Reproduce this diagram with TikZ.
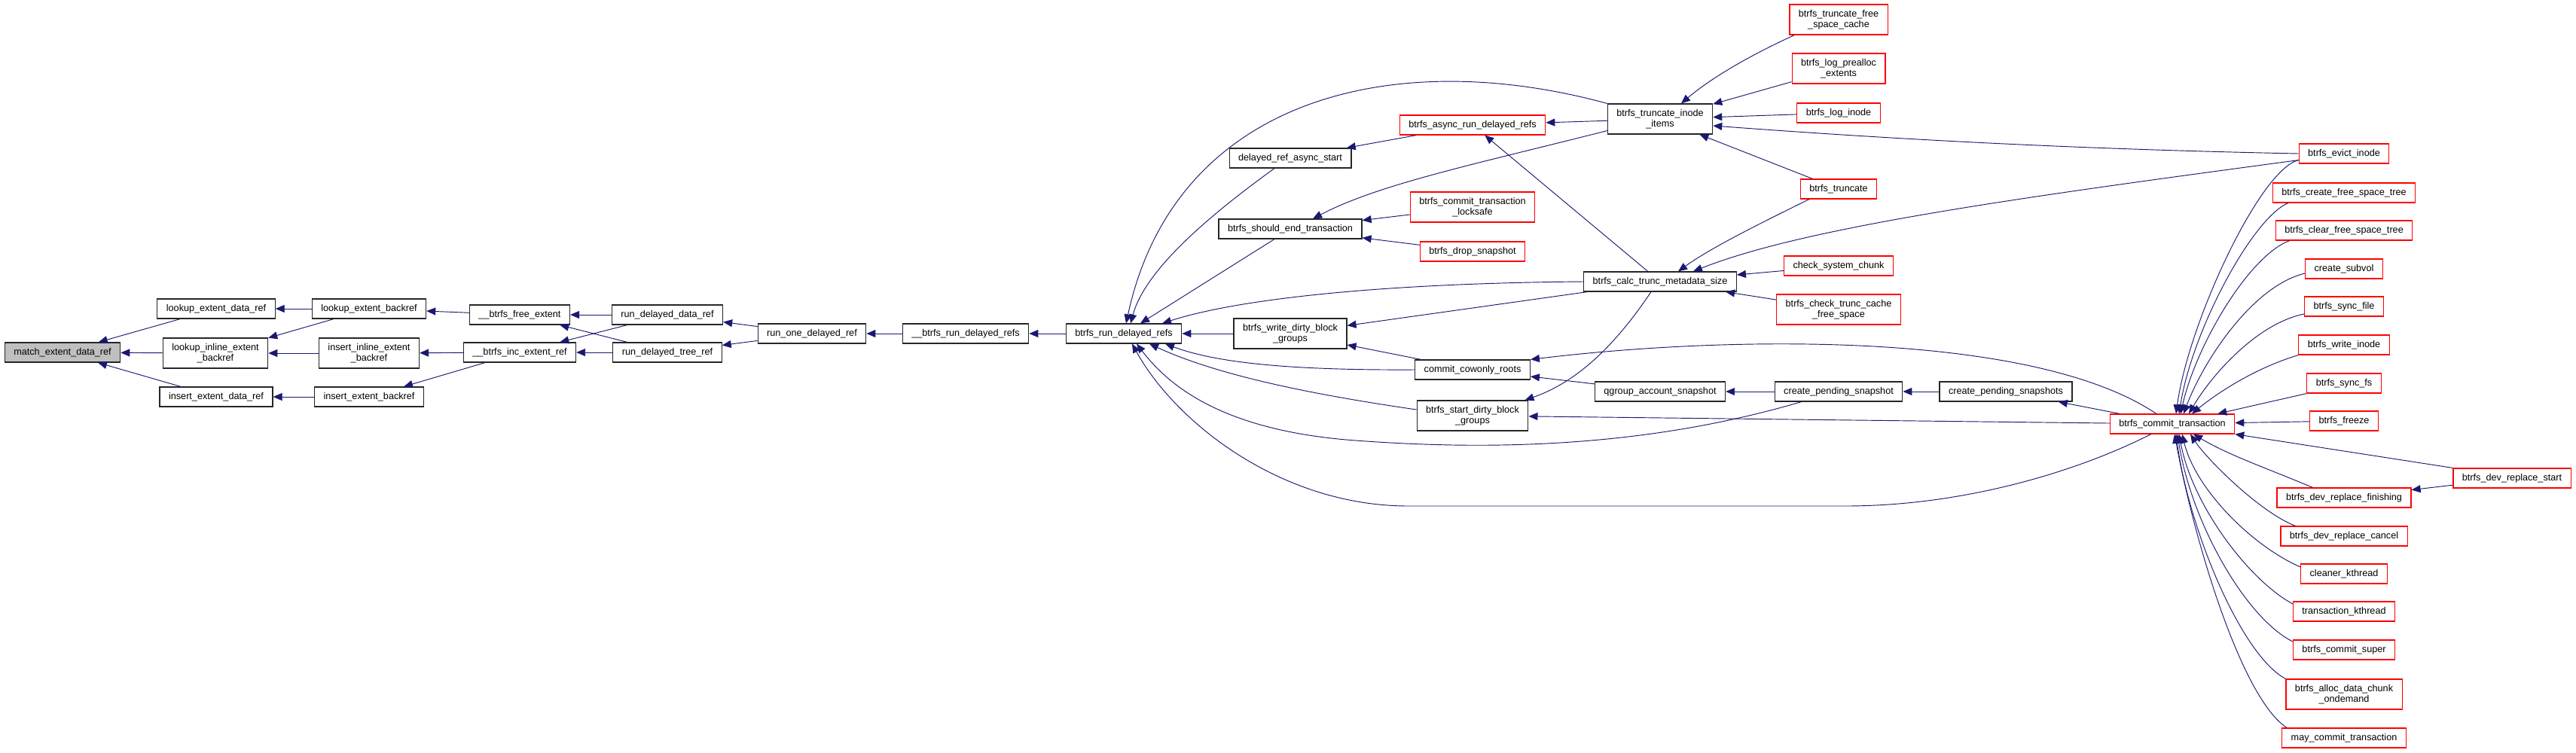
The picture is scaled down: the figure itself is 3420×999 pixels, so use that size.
\documentclass[tikz,border=0pt]{standalone}
\usepackage{fontspec}
\setmainfont{Liberation Sans}
\usetikzlibrary{arrows.meta,calc}
\definecolor{edgeblue}{RGB}{25,25,112}
\definecolor{boxred}{RGB}{255,0,0}
\definecolor{rootgray}{RGB}{191,191,191}

\begin{document}
\begin{tikzpicture}[x=0.03cm,y=-0.03cm,>={Triangle[length=0.36cm,width=0.3cm]},
  fn/.style={draw=black!85,line width=1pt,fill=white,minimum height=0.78cm,inner xsep=0.36cm,
    inner ysep=0.05cm,align=center,font=\fontsize{10.8pt}{11.9pt}\selectfont},
  ext/.style={fn,draw=boxred},
  root/.style={fn,fill=rootgray},
  tall/.style={minimum height=1.2cm},
  call/.style={->,draw=edgeblue,line width=0.8pt}]
  \useasboundingbox (0,0) rectangle (3420,999);

  % left part of the graph
  \node[root] (M) at (83,468) {match\_extent\_data\_ref};
  \node[fn] (LEDR) at (287,410) {lookup\_extent\_data\_ref};
  \node[fn,tall] (LIEB) at (286,469) {lookup\_inline\_extent\\\_backref};
  \node[fn] (IEDR) at (287,527) {insert\_extent\_data\_ref};
  \node[fn] (LEB) at (490,410) {lookup\_extent\_backref};
  \node[fn,tall] (IIEB) at (490,469) {insert\_inline\_extent\\\_backref};
  \node[fn] (IEB) at (490,527) {insert\_extent\_backref};
  \node[fn] (BFE) at (690,418) {\_\_btrfs\_free\_extent};
  \node[fn] (BIER) at (690,468) {\_\_btrfs\_inc\_extent\_ref};
  \node[fn] (RDDR) at (886,418) {run\_delayed\_data\_ref};
  \node[fn] (RDTR) at (886,468) {run\_delayed\_tree\_ref};
  \node[fn] (RODR) at (1078,443) {run\_one\_delayed\_ref};
  \node[fn] (BRDR) at (1282,443) {\_\_btrfs\_run\_delayed\_refs};
  \node[fn] (RDR) at (1492,443) {btrfs\_run\_delayed\_refs};

  % middle part
  \node[fn] (DRAS) at (1713,210) {delayed\_ref\_async\_start};
  \node[fn] (SET) at (1713,304) {btrfs\_should\_end\_transaction};
  \node[fn,tall] (WDBG) at (1713,443) {btrfs\_write\_dirty\_block\\\_groups};
  \node[ext] (ARDR) at (1955,166) {btrfs\_async\_run\_delayed\_refs};
  \node[ext,tall] (CTL) at (1955,275) {btrfs\_commit\_transaction\\\_locksafe};
  \node[ext] (DS) at (1955,334) {btrfs\_drop\_snapshot};
  \node[fn] (CCR) at (1955,491) {commit\_cowonly\_roots};
  \node[fn,tall] (SDBG) at (1955,552) {btrfs\_start\_dirty\_block\\\_groups};
  \node[fn,tall] (TII) at (2204,158) {btrfs\_truncate\_inode\\\_items};
  \node[fn] (CTMS) at (2204,374) {btrfs\_calc\_trunc\_metadata\_size};
  \node[fn] (QAS) at (2204,520) {qgroup\_account\_snapshot};
  \node[ext,tall] (TFSC) at (2441,26) {btrfs\_truncate\_free\\\_space\_cache};
  \node[ext,tall] (LPE) at (2441,91) {btrfs\_log\_prealloc\\\_extents};
  \node[ext] (LI) at (2441,150) {btrfs\_log\_inode};
  \node[ext] (TR) at (2441,251) {btrfs\_truncate};
  \node[ext] (CSC) at (2441,353) {check\_system\_chunk};
  \node[ext,tall] (CTCF) at (2441,411) {btrfs\_check\_trunc\_cache\\\_free\_space};
  \node[fn] (CPS) at (2441,520) {create\_pending\_snapshot};
  \node[fn] (CPSS) at (2663,520) {create\_pending\_snapshots};
  \node[ext] (CT) at (2884,563) {btrfs\_commit\_transaction};

  % right column
  \node[ext] (EI) at (3112,204) {btrfs\_evict\_inode};
  \node[ext] (CFST) at (3112,256) {btrfs\_create\_free\_space\_tree};
  \node[ext] (CLFST) at (3112,306) {btrfs\_clear\_free\_space\_tree};
  \node[ext] (CSV) at (3112,357) {create\_subvol};
  \node[ext] (SF) at (3112,407) {btrfs\_sync\_file};
  \node[ext] (WI) at (3112,458) {btrfs\_write\_inode};
  \node[ext] (SFS) at (3112,509) {btrfs\_sync\_fs};
  \node[ext] (FRZ) at (3112,559) {btrfs\_freeze};
  \node[ext] (DRF) at (3112,661) {btrfs\_dev\_replace\_finishing};
  \node[ext] (DRC) at (3112,712) {btrfs\_dev\_replace\_cancel};
  \node[ext] (CK) at (3112,762) {cleaner\_kthread};
  \node[ext] (TK) at (3112,812) {transaction\_kthread};
  \node[ext] (CSU) at (3112,863) {btrfs\_commit\_super};
  \node[ext,tall] (ADC) at (3112,922) {btrfs\_alloc\_data\_chunk\\\_ondemand};
  \node[ext] (MCT) at (3112,980) {may\_commit\_transaction};
  \node[ext] (DRS) at (3335,635) {btrfs\_dev\_replace\_start};

  % calls, caller -> callee
  \draw[call] (LEDR) -- (M); \draw[call] (LIEB) -- (M); \draw[call] (IEDR) -- (M);
  \draw[call] (LEB) -- (LEDR); \draw[call] (LEB) -- (LIEB);
  \draw[call] (IIEB) -- (LIEB); \draw[call] (IEB) -- (IEDR);
  \draw[call] (BFE) -- (LEB); \draw[call] (BIER) -- (IIEB); \draw[call] (BIER) -- (IEB);
  \draw[call] (RDDR) -- (BFE); \draw[call] (RDDR) -- (BIER);
  \draw[call] (RDTR) -- (BFE); \draw[call] (RDTR) -- (BIER);
  \draw[call] (RODR) -- (RDDR); \draw[call] (RODR) -- (RDTR);
  \draw[call] (BRDR) -- (RODR); \draw[call] (RDR) -- (BRDR);

  % into btrfs_run_delayed_refs
  \draw[call] (TII.north west) .. controls (1850,60) and (1560,130) .. ($(RDR.north)+(3,0)$);
  \draw[call] ($(DRAS.south)+(-21,0)$) .. controls (1600,290) and (1520,360) .. ($(RDR.north)+(9,0)$);
  \draw[call] ($(SET.south)+(-21,0)$) -- ($(RDR.north)+(22,0)$);
  \draw[call] (CTMS.west) .. controls (1850,376) and (1650,395) .. ($(RDR.north)+(51,0)$);
  \draw[call] (WDBG) -- (RDR);
  \draw[call] (CCR.west) .. controls (1700,492) and (1610,480) .. ($(RDR.south)+(55,0)$);
  \draw[call] ($(SDBG.west)+(0,-8)$) .. controls (1750,525) and (1620,500) .. ($(RDR.south)+(34,0)$);
  \draw[call] ($(CPS.south west)+(36,0)$) .. controls (2200,590) and (2000,600) .. (1800,585)
    .. controls (1620,572) and (1550,510) .. ($(RDR.south)+(17,0)$);
  \draw[call] ($(CT.south west)+(55,0)$) .. controls (2750,630) and (2600,672) .. (2450,672) -- (1870,672)
    .. controls (1700,672) and (1560,560) .. ($(RDR.south)+(11,0)$);

  % middle calls
  \draw[call] (ARDR) -- (DRAS);
  \draw[call] (TII) -- (ARDR); \draw[call] (CTMS) -- (ARDR);
  \draw[call] ($(TII.south west)+(0,-5)$) .. controls (1950,220) and (1830,245) .. ($(SET.north)+(30,0)$);
  \draw[call] (CTL) -- (SET); \draw[call] (DS) -- (SET);
  \draw[call] (CTMS) -- (WDBG); \draw[call] (CCR) -- (WDBG);
  \draw[call] ($(CT.north west)+(62,0)$) .. controls (2700,440) and (2300,445) .. (CCR.north east);
  \draw[call] (QAS) -- (CCR);
  \draw[call] ($(CTMS.south)+(-12,0)$) .. controls (2150,450) and (2100,505) .. ($(SDBG.north east)+(-5,0)$);
  \draw[call] (CT) -- (SDBG);
  \draw[call] (CPS) -- (QAS); \draw[call] (CPSS) -- (CPS); \draw[call] (CT) -- (CPSS);

  % into btrfs_truncate_inode_items and btrfs_calc_trunc_metadata_size
  \draw[call] ($(TFSC.south west)+(7,0)$) .. controls (2320,75) and (2270,105) .. ($(TII.north)+(28,0)$);
  \draw[call] (LPE) -- (TII); \draw[call] (LI) -- (TII);
  \draw[call] (EI.west) .. controls (2700,197) and (2450,180) .. ($(TII.east)+(0,9)$);
  \draw[call] (TR) -- (TII);
  \draw[call] ($(TR.south)+(-39,0)$) .. controls (2330,300) and (2270,330) .. ($(CTMS.north)+(24,0)$);
  \draw[call] ($(EI.south west)+(0,-5)$) .. controls (2700,260) and (2400,300) .. ($(CTMS.north)+(44,0)$);
  \draw[call] (CSC) -- (CTMS); \draw[call] (CTCF) -- (CTMS);

  % into btrfs_commit_transaction
  \draw[call] ($(EI.south west)+(0,-5)$) .. controls (3000,225) and (2905,430) .. ($(CT.north)+(5,0)$);
  \draw[call] ($(CFST.south west)+(21,0)$) .. controls (2990,290) and (2910,440) .. ($(CT.north)+(9,0)$);
  \draw[call] ($(CLFST.south west)+(19,0)$) .. controls (2985,340) and (2915,460) .. ($(CT.north)+(11,0)$);
  \draw[call] ($(CSV.west)+(0,6)$) .. controls (2990,380) and (2925,480) .. ($(CT.north)+(15,0)$);
  \draw[call] ($(SF.west)+(0,10)$) .. controls (2995,430) and (2935,500) .. ($(CT.north)+(22,0)$);
  \draw[call] (WI.south west) .. controls (2990,490) and (2940,525) .. ($(CT.north)+(26,0)$);
  \draw[call] (SFS.south west) -- ($(CT.north east)+(-23,0)$);
  \draw[call] (FRZ) -- (CT);
  \draw[call] (DRS.north west) -- (CT.south east);
  \draw[call] (DRS) -- (DRF);
  \draw[call] ($(DRF.north west)+(48,0)$) .. controls (3010,622) and (2960,605) .. ($(CT.south)+(28,0)$);
  \draw[call] ($(DRC.north west)+(20,0)$) .. controls (3000,680) and (2930,610) .. ($(CT.south)+(24,0)$);
  \draw[call] ($(CK.west)+(0,-9)$) .. controls (2990,725) and (2915,650) .. ($(CT.south)+(13,0)$);
  \draw[call] ($(TK.west)+(0,-10)$) .. controls (2985,770) and (2910,670) .. ($(CT.south)+(9,0)$);
  \draw[call] ($(CSU.west)+(0,-11)$) .. controls (2980,820) and (2908,690) .. ($(CT.south)+(7,0)$);
  \draw[call] (ADC.north west) .. controls (2975,870) and (2905,700) .. ($(CT.south)+(5,0)$);
  \draw[call] ($(MCT.north west)+(7,0)$) .. controls (2975,927) and (2912,713) .. ($(CT.south)+(3,0)$);
\end{tikzpicture}
\end{document}
